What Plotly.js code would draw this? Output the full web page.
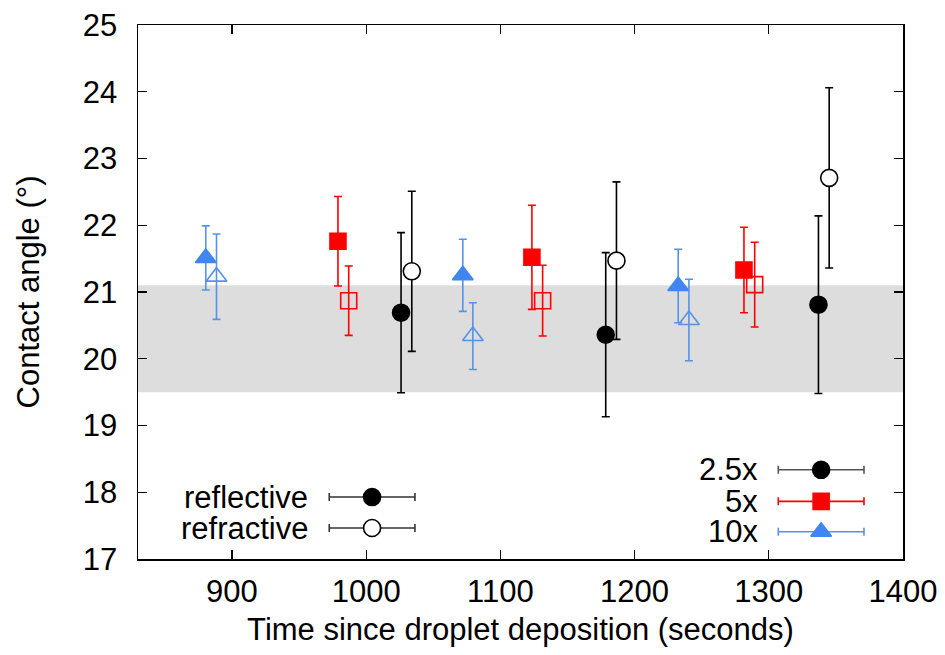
<!DOCTYPE html>
<html>
<head>
<meta charset="utf-8">
<script src="https://cdn.plot.ly/plotly-3.0.1.min.js"></script>
<style>html,body{margin:0;padding:0;background:#fff;}#chart{width:945px;height:655px;}</style>
</head>
<body>
<div id="chart"></div>
<script>
// ---- data ----
const xTicks = [900, 1000, 1100, 1200, 1300, 1400];
const yTicks = [17, 18, 19, 20, 21, 22, 23, 24, 25];
const bandLow = 19.5;
const bandHigh = 21.1;

const magLabels = ["2.5x", "5x", "10x"];
const methodLabels = ["reflective", "refractive"];

const x25Refl = [1026, 1178.5, 1337];
const y25Refl = [20.69, 20.36, 20.81];
const e25Refl = [1.2, 1.23, 1.33];

const x25Refr = [1034, 1186.5, 1345];
const y25Refr = [21.31, 21.47, 22.71];
const e25Refr = [1.2, 1.18, 1.35];

const x5Refl = [979, 1123.5, 1281.5];
const y5Refl = [21.76, 21.52, 21.33];
const e5Refl = [0.67, 0.78, 0.64];

const x5Refr = [987, 1131.5, 1289.5];
const y5Refr = [20.87, 20.87, 21.11];
const e5Refr = [0.52, 0.53, 0.635];

const x10Refl = [880.5, 1072, 1232.5];
const y10Refl = [21.51, 21.25, 21.09];
const e10Refl = [0.48, 0.54, 0.55];

const x10Refr = [888.5, 1079.5, 1240.5];
const y10Refr = [21.23, 20.34, 20.58];
const e10Refr = [0.64, 0.5, 0.61];

// ---- styles ----
const FONT = "Liberation Sans, Arial, sans-serif";
const FS = 31;
const BLACK = "#000000";
const RED = "#ff0000";
const BLUE = "#3f86f0";
const BLUE_BAR = "#5592e8";

function errY(arr, color) {
  return {type: "data", array: arr, visible: true, color: color, thickness: 1.6, width: 4};
}
function series(x, y, e, symbol, color, barColor, size, fill) {
  return {
    x: x, y: y, type: "scatter", mode: "markers", showlegend: false, hoverinfo: "x+y",
    error_y: errY(e, barColor),
    marker: {symbol: symbol, size: size, color: fill || color, line: {color: color, width: 1.6}}
  };
}

const traces = [
  series(x10Refl, y10Refl, e10Refl, "triangle-up", BLUE, BLUE_BAR, 18),
  series(x10Refr, y10Refr, e10Refr, "triangle-up-open", BLUE_BAR, BLUE_BAR, 18),
  series(x5Refl, y5Refl, e5Refl, "square", RED, RED, 16),
  series(x5Refr, y5Refr, e5Refr, "square-open", RED, RED, 16),
  series(x25Refl, y25Refl, e25Refl, "circle", BLACK, BLACK, 17),
  series(x25Refr, y25Refr, e25Refr, "circle", BLACK, BLACK, 17, "#ffffff")
];

// ---- custom gnuplot-style keys on an overlay axis (fractions of plot area) ----
const keyHalf = 0.056;
const keyLeftX = 0.306, keyLeftY = [0.116, 0.058];
const keyRightX = 0.893, keyRightY = [0.167, 0.108, 0.051];
function keyTrace(x, y, symbol, color, barColor, size, fill) {
  return {
    x: [x], y: [y], xaxis: "x2", yaxis: "y2", type: "scatter", mode: "markers",
    showlegend: false, hoverinfo: "skip",
    error_x: {type: "constant", value: keyHalf, visible: true, color: barColor, thickness: 1.6, width: 4},
    marker: {symbol: symbol, size: size, color: fill || color, line: {color: color, width: 1.6}}
  };
}
traces.push(keyTrace(keyLeftX, keyLeftY[0], "circle", BLACK, "#333333", 17));
traces.push(keyTrace(keyLeftX, keyLeftY[1], "circle", BLACK, "#333333", 17, "#ffffff"));
traces.push(keyTrace(keyRightX, keyRightY[0], "circle", BLACK, "#555555", 17));
traces.push(keyTrace(keyRightX, keyRightY[1], "square", RED, RED, 16));
traces.push(keyTrace(keyRightX, keyRightY[2], "triangle-up", BLUE, BLUE_BAR, 18));

const keyTextLeftX = 0.225, keyTextRightX = 0.813;
const annotations = [];
methodLabels.forEach((t, i) => annotations.push({
  text: t, xref: "x2", yref: "y2", x: keyTextLeftX, y: keyLeftY[i], xanchor: "right", yanchor: "middle",
  showarrow: false, font: {family: FONT, size: FS, color: "#000"}
}));
magLabels.forEach((t, i) => annotations.push({
  text: t, xref: "x2", yref: "y2", x: keyTextRightX, y: keyRightY[i], xanchor: "right", yanchor: "middle",
  showarrow: false, font: {family: FONT, size: FS, color: "#000"}
}));

const axisCommon = {
  showline: true, linecolor: "#000", linewidth: 1.5, mirror: "allticks",
  ticks: "inside", ticklen: 9, tickwidth: 1.3, tickcolor: "#000",
  showgrid: false, zeroline: false,
  tickfont: {family: FONT, size: FS, color: "#000"}
};

const layout = {
  width: 945, height: 655,
  margin: {l: 138, r: 42, t: 25, b: 96},
  paper_bgcolor: "#fff", plot_bgcolor: "#fff",
  showlegend: false,
  xaxis: Object.assign({}, axisCommon, {
    range: [830, 1400], tickvals: xTicks, ticktext: xTicks.map(String),
    ticklabelstandoff: 4,
    title: {text: "Time since droplet deposition (seconds)", font: {family: FONT, size: FS, color: "#000"}, standoff: 10}
  }),
  yaxis: Object.assign({}, axisCommon, {
    range: [17, 25], tickvals: yTicks, ticktext: yTicks.map(String),
    ticklabelstandoff: 13,
    title: {text: "Contact angle (°)", font: {family: FONT, size: FS, color: "#000"}, standoff: 34}
  }),
  xaxis2: {overlaying: "x", range: [0, 1], visible: false, fixedrange: true},
  yaxis2: {overlaying: "y", range: [0, 1], visible: false, fixedrange: true},
  shapes: [{
    type: "rect", xref: "paper", yref: "y", x0: 0, x1: 1, y0: bandLow, y1: bandHigh,
    fillcolor: "#dddddd", line: {width: 0}, layer: "below"
  }],
  annotations: annotations
};

Plotly.newPlot("chart", traces, layout, {staticPlot: true, displayModeBar: false});
</script>
</body>
</html>
